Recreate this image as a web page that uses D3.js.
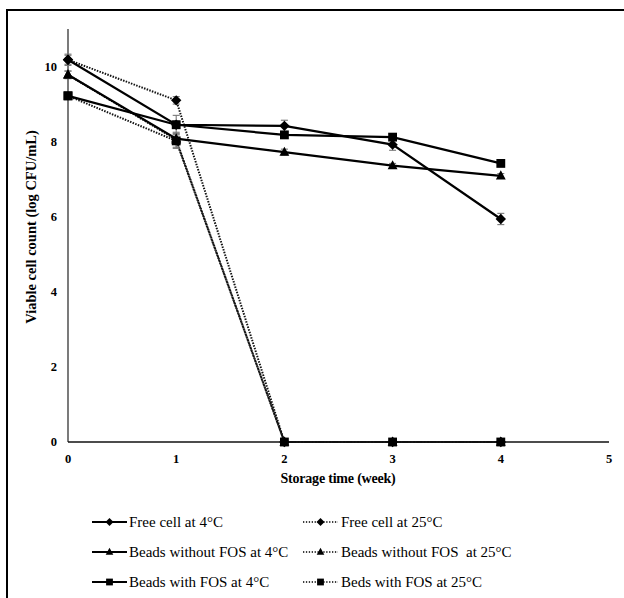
<!DOCTYPE html>
<html><head><meta charset="utf-8">
<script src="https://cdn.jsdelivr.net/npm/d3@7"></script>
<style>body{margin:0;background:#fff}svg{display:block}text{font-family:"Liberation Serif","DejaVu Serif","Times New Roman",serif;white-space:pre}</style>
</head><body>
<svg id="c" width="624" height="598"></svg>
<script>
const weeks = [0, 1, 2, 3, 4];
const xTicks = [0, 1, 2, 3, 4, 5];
const yTicks = [0, 2, 4, 6, 8, 10];
const seriesNames = ["Free cell at 4°C", "Free cell at 25°C", "Beads without FOS at 4°C", "Beads without FOS  at 25°C", "Beads with FOS at 4°C", "Beds with FOS at 25°C"];
const freeCell4 = [10.18, 8.45, 8.42, 7.92, 5.94];
const freeCell25 = [10.18, 9.1, 0, 0, 0];
const beadsNoFos4 = [9.78, 8.08, 7.72, 7.36, 7.09];
const beadsNoFos25 = [9.78, 8.05, 0, 0, 0];
const beadsFos4 = [9.22, 8.45, 8.18, 8.12, 7.42];
const beadsFos25 = [9.22, 8.02, 0, 0, 0];
const errFree4 = [0.15, 0.1, 0.15, 0.15, 0.15];
const errFree25 = [0.12, 0.1, 0, 0, 0];
const errNoFos4 = [0.1, 0.1, 0.08, 0.06, 0.06];
const errNoFos25 = [0.1, 0.2, 0, 0, 0];
const errFos4 = [0.05, 0.25, 0.05, 0.05, 0.05];
const errFos25 = [0.05, 0.2, 0, 0, 0];

const series = [
  {name: seriesNames[0], vals: freeCell4, err: errFree4, shape: "diamond", dotted: false},
  {name: seriesNames[1], vals: freeCell25, err: errFree25, shape: "diamond", dotted: true},
  {name: seriesNames[2], vals: beadsNoFos4, err: errNoFos4, shape: "triangle", dotted: false},
  {name: seriesNames[3], vals: beadsNoFos25, err: errNoFos25, shape: "triangle", dotted: true},
  {name: seriesNames[4], vals: beadsFos4, err: errFos4, shape: "square", dotted: false},
  {name: seriesNames[5], vals: beadsFos25, err: errFos25, shape: "square", dotted: true}
];

const svg = d3.select("#c");

svg.append("rect").attr("x", 7).attr("y", 10).attr("width", 700).attr("height", 700)
  .attr("fill", "none").attr("stroke", "#000").attr("stroke-width", 2);

const x = d3.scaleLinear().domain([0, 5]).range([68, 609]);
const y = d3.scaleLinear().domain([0, 11]).range([442, 29]);

svg.append("line").attr("x1", x(0)).attr("x2", x(0)).attr("y1", y(11)).attr("y2", y(0))
  .attr("stroke", "#333").attr("stroke-width", 1.3);
svg.append("line").attr("x1", x(0)).attr("x2", x(5)).attr("y1", y(0)).attr("y2", y(0))
  .attr("stroke", "#111").attr("stroke-width", 1.5);

svg.append("g").selectAll("text").data(yTicks).join("text")
  .attr("x", 57).attr("y", d => y(d)).attr("dy", "0.35em").attr("text-anchor", "end")
  .attr("font-weight", "bold").attr("font-size", 12.5).text(d => d);
svg.append("g").selectAll("text").data(xTicks).join("text")
  .attr("x", d => x(d)).attr("y", 463).attr("text-anchor", "middle")
  .attr("font-weight", "bold").attr("font-size", 12.5).text(d => d);

svg.append("text").attr("x", 338).attr("y", 483).attr("text-anchor", "middle")
  .attr("font-weight", "bold").attr("font-size", 14).attr("letter-spacing", -0.2)
  .text("Storage time (week)");
svg.append("text").attr("transform", "translate(36,227) rotate(-90)").attr("text-anchor", "middle")
  .attr("font-weight", "bold").attr("font-size", 14.5)
  .text("Viable cell count (log CFU/mL)");

function symPath(shape, r) {
  if (shape === "diamond") return `M0,${-r}L${r},0L0,${r}L${-r},0Z`;
  if (shape === "triangle") return `M0,${-r * 1.05}L${r * 0.95},${r * 0.7}L${-r * 0.95},${r * 0.7}Z`;
  const h = r * 0.85;
  return `M${-h},${-h}H${h}V${h}H${-h}Z`;
}

const line = d3.line().x((d, i) => x(weeks[i])).y(d => y(d));
const order = [1, 3, 5, 0, 2, 4];

order.forEach(k => {
  const s = series[k];
  svg.append("path").datum(s.vals).attr("d", line).attr("fill", "none")
    .attr("stroke", s.dotted ? "#111" : "#000")
    .attr("stroke-width", s.dotted ? 2 : 2.2)
    .attr("stroke-dasharray", s.dotted ? "1.5,1.3" : null);
});

series.forEach(s => {
  const g = svg.append("g").attr("stroke", "#777").attr("stroke-width", 1.1);
  s.vals.forEach((v, i) => {
    const e = s.err[i];
    if (!e) return;
    const cx = x(weeks[i]);
    g.append("line").attr("x1", cx).attr("x2", cx).attr("y1", y(v + e)).attr("y2", y(v - e));
    g.append("line").attr("x1", cx - 3.5).attr("x2", cx + 3.5).attr("y1", y(v + e)).attr("y2", y(v + e));
    g.append("line").attr("x1", cx - 3.5).attr("x2", cx + 3.5).attr("y1", y(v - e)).attr("y2", y(v - e));
  });
});

order.forEach(k => {
  const s = series[k];
  svg.append("g").selectAll("path").data(s.vals).join("path")
    .attr("transform", (d, i) => `translate(${x(weeks[i])},${y(d)})`)
    .attr("d", symPath(s.shape, 5.2)).attr("fill", "#000");
});

const legRows = [522, 552, 582];
series.forEach((s, k) => {
  const col = k % 2, row = Math.floor(k / 2);
  const x0 = col === 0 ? 92 : 303, yy = legRows[row];
  const g = svg.append("g");
  g.append("line").attr("x1", x0).attr("x2", x0 + 35).attr("y1", yy).attr("y2", yy)
    .attr("stroke", "#000").attr("stroke-width", s.dotted ? 1.3 : 2.2)
    .attr("stroke-dasharray", s.dotted ? "1.3,1.6" : null);
  g.append("path").attr("transform", `translate(${x0 + 17.5},${yy})`)
    .attr("d", symPath(s.shape, 4)).attr("fill", "#000");
  g.append("text").attr("x", col === 0 ? 129 : 341).attr("y", yy).attr("dy", "0.35em")
    .attr("font-size", 15).text(s.name);
});
</script>
</body></html>
